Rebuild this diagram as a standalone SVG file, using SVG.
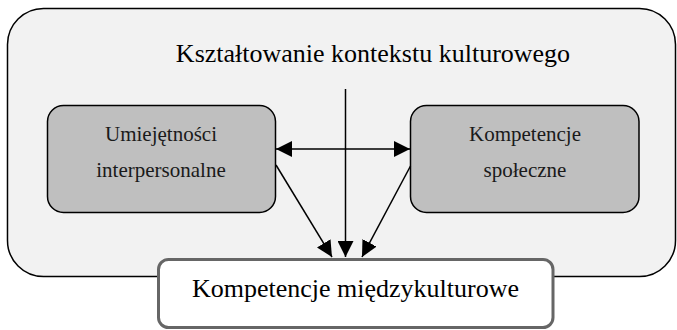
<svg xmlns="http://www.w3.org/2000/svg" width="677" height="330" viewBox="0 0 677 330">
<style>
text{font-family:"Liberation Serif","Times New Roman",serif;fill:#000;text-anchor:middle}
.inner{fill:#bfbfbf;stroke:#000;stroke-width:1.5}
.edge{stroke:#000;stroke-width:1.5;fill:none}
.t21{font-size:21px;fill:#1a1a1a}
.t26{font-size:26px}
</style>
<defs>
<marker id="ah" viewBox="0 0 16 16" refX="16" refY="8" markerWidth="16" markerHeight="16" markerUnits="userSpaceOnUse" orient="auto-start-reverse">
<path d="M0,0 L16,8 L0,16 z" fill="#000"/>
</marker>
</defs>
<g id="context">
<rect x="7.5" y="8.5" width="668" height="268" rx="36" ry="36" fill="#f2f2f2" stroke="#000" stroke-width="1.5"/>
<text class="t26" x="373" y="62">Kształtowanie kontekstu kulturowego</text>
</g>
<g id="umiejetnosci">
<rect class="inner" x="47.5" y="105.5" width="228" height="107" rx="16" ry="16"/>
<text class="t21" x="161" y="140.5">Umiejętności</text>
<text class="t21" x="161" y="177">interpersonalne</text>
</g>
<g id="spoleczne">
<rect class="inner" x="410.5" y="105.5" width="228.5" height="107" rx="16" ry="16"/>
<text class="t21" x="525" y="140.5">Kompetencje</text>
<text class="t21" x="525" y="177">społeczne</text>
</g>
<g id="connectors">
<line class="edge" x1="276" y1="149" x2="410" y2="149" marker-start="url(#ah)" marker-end="url(#ah)"/>
<line class="edge" x1="345.5" y1="89" x2="345.5" y2="257" marker-end="url(#ah)"/>
<line class="edge" x1="276" y1="165" x2="332" y2="257" marker-end="url(#ah)"/>
<line class="edge" x1="410.5" y1="166" x2="362" y2="257" marker-end="url(#ah)"/>
</g>
<g id="miedzykulturowe">
<rect x="158.5" y="259.5" width="394.5" height="68" rx="10" ry="10" fill="#fff" stroke="#666" stroke-width="3"/>
<text class="t26" x="355.5" y="297">Kompetencje międzykulturowe</text>
</g>
</svg>
